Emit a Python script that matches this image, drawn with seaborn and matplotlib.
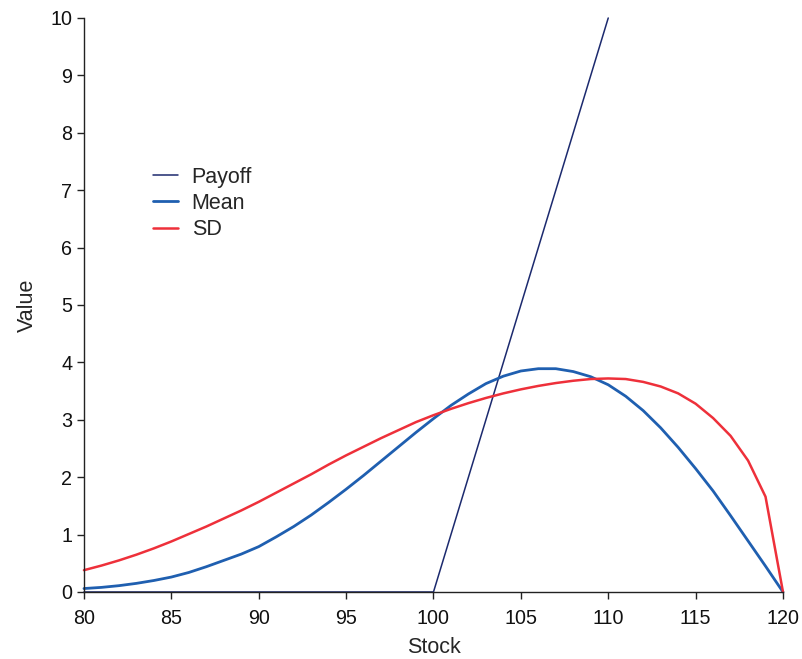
import numpy as np
import pandas as pd
import matplotlib
matplotlib.use("Agg")
import matplotlib.pyplot as plt
import seaborn as sns

# Stock grid for the mean / SD curves
stock = list(range(80, 121))

mean_vals = [0.06, 0.08, 0.11, 0.15, 0.20, 0.26, 0.34, 0.44, 0.55, 0.66,
             0.79, 0.96, 1.14, 1.34, 1.56, 1.79, 2.03, 2.28, 2.53, 2.78,
             3.02, 3.25, 3.45, 3.63, 3.76, 3.85, 3.89, 3.89, 3.84, 3.75,
             3.61, 3.41, 3.16, 2.86, 2.52, 2.15, 1.76, 1.33, 0.89, 0.45,
             0.00]

sd_vals = [0.38, 0.46, 0.55, 0.65, 0.76, 0.88, 1.01, 1.14, 1.28, 1.42,
           1.57, 1.73, 1.89, 2.05, 2.22, 2.38, 2.53, 2.68, 2.82, 2.96,
           3.08, 3.19, 3.29, 3.38, 3.46, 3.53, 3.59, 3.64, 3.68, 3.71,
           3.72, 3.71, 3.66, 3.58, 3.46, 3.28, 3.03, 2.72, 2.29, 1.66,
           0.00]

# Call payoff with strike 100
payoff_stock = [80, 100, 110]
payoff_vals = [0, 0, 10]

x_ticks = [80, 85, 90, 95, 100, 105, 110, 115, 120]
y_ticks = list(range(0, 11))

sns.set_style("ticks")
plt.rcParams["font.family"] = ["Liberation Sans", "DejaVu Sans"]

fig = plt.figure(figsize=(8.02, 6.59), dpi=100)
ax = fig.add_axes([0.1047, 0.1017, 0.8716, 0.871])

df_pay = pd.DataFrame({"Stock": payoff_stock, "Value": payoff_vals})
df_mean = pd.DataFrame({"Stock": stock, "Value": mean_vals})
df_sd = pd.DataFrame({"Stock": stock, "Value": sd_vals})

sns.lineplot(data=df_pay, x="Stock", y="Value", ax=ax, color="#1c2a6e",
             linewidth=1.1, label="Payoff", clip_on=False)
sns.lineplot(data=df_mean, x="Stock", y="Value", ax=ax, color="#1f5fb0",
             linewidth=2.0, label="Mean", clip_on=False)
sns.lineplot(data=df_sd, x="Stock", y="Value", ax=ax, color="#ee303a",
             linewidth=1.8, label="SD", clip_on=False)

ax.set_xlim(80, 120)
ax.set_ylim(0, 10)
ax.set_xticks(x_ticks)
ax.set_yticks(y_ticks)
ax.tick_params(axis="both", direction="out", length=5, width=1.0,
               labelsize=14.2, color="#222222", labelcolor="#111111")
ax.tick_params(axis="x", pad=7)
ax.set_xlabel("Stock", fontsize=15.5, labelpad=7)
ax.set_ylabel("Value", fontsize=15.5, labelpad=9)

for side in ("top", "right"):
    ax.spines[side].set_visible(False)
for side in ("left", "bottom"):
    ax.spines[side].set_linewidth(1.0)
    ax.spines[side].set_color("#222222")

ax.legend(loc="upper left", bbox_to_anchor=(0.0705, 0.775), frameon=False,
          fontsize=15.5, handlelength=1.16, handletextpad=0.65,
          labelspacing=0.245)

fig.savefig("out.png", dpi=100)
